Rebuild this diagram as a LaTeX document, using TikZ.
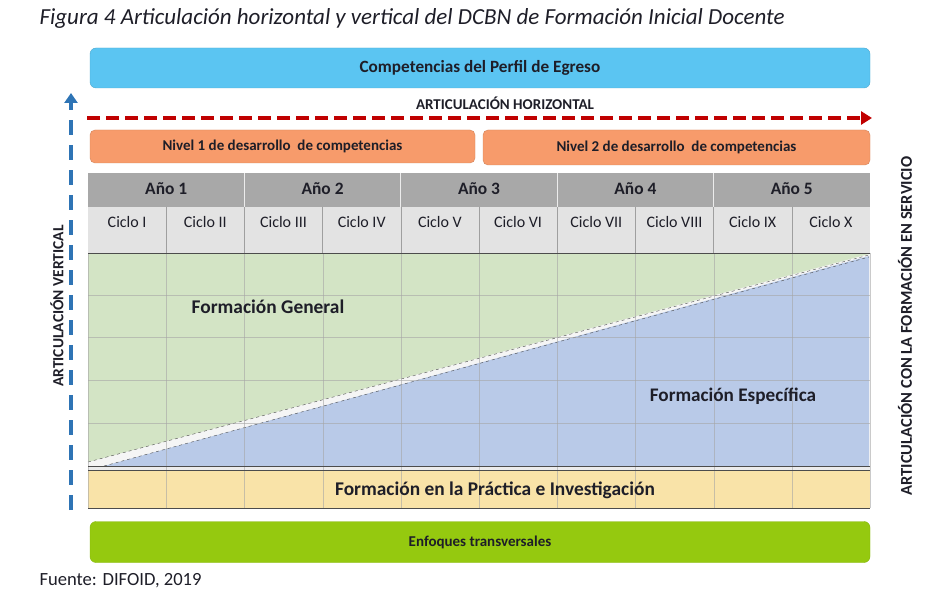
\documentclass[tikz,border=0pt]{standalone}
\usepackage{fontspec}
\setmainfont{Carlito}
\usetikzlibrary{arrows.meta}
\definecolor{perfil}{HTML}{5BC5F2}
\definecolor{nivel}{HTML}{F79B6B}
\definecolor{anyo}{HTML}{A8A8A8}
\definecolor{ciclo}{HTML}{E3E3E3}
\definecolor{general}{HTML}{D3E4C5}
\definecolor{especifica}{HTML}{B9CAE8}
\definecolor{practica}{HTML}{F9E3A8}
\definecolor{enfoque}{HTML}{95C90F}
\definecolor{rojo}{HTML}{C00000}
\definecolor{azul}{HTML}{2E74B5}
\definecolor{tinta}{HTML}{1E1E28}

\tikzset{
  banda/.style={rounded corners=6pt, minimum width=780pt, minimum height=40pt, inner sep=0pt, text=tinta},
  nivelbox/.style={rounded corners=5pt, fill=nivel, draw=nivel!85!black, minimum height=33pt, inner sep=0pt, text=tinta,
    font=\bfseries\fontsize{15}{17}\selectfont},
  rotulo/.style={font=\bfseries\fontsize{15.5}{17}\selectfont, text=tinta},
  rejilla/.style={draw=gray!70, very thin, opacity=0.6},
}

\begin{document}
\begin{tikzpicture}[x=1pt,y=-1pt]
  \useasboundingbox (0,0) rectangle (938,612);
  \node[anchor=west,font=\itshape\fontsize{23}{26}\selectfont,text=tinta] (titulo) at (36,18) {Figura 4 Articulación horizontal y vertical del DCBN de Formación Inicial Docente};

  % bandas superiores
  \node[banda,fill=perfil,draw=perfil!85!black,font=\bfseries\fontsize{17.2}{19}\selectfont] (perfil) at (480,68) {Competencias del Perfil de Egreso};
  \node[font=\bfseries\fontsize{15}{17}\selectfont,text=tinta] (horizontal) at (505,103) {ARTICULACIÓN HORIZONTAL};
  \coordinate (hIni) at (87,118);
  \coordinate (hFin) at (872,118);
  \draw[draw=rojo,line width=3.5pt,dash pattern=on 13pt off 6pt,-{Triangle[length=11pt,width=13pt]}] (hIni) -- (hFin);
  \node[nivelbox,minimum width=385pt] (nivel1) at (282.5,146.5) {Nivel 1 de desarrollo~ de competencias};
  \node[nivelbox,minimum width=387pt,minimum height=35pt] (nivel2) at (676.5,147.5) {Nivel 2 de desarrollo~ de competencias};

  % cabecera de años y ciclos
  \fill[anyo] (88,173) rectangle (870,207);
  \fill[ciclo] (88,207) rectangle (870,253);
  \foreach \i in {1,...,5}
    \node[font=\bfseries\fontsize{17.4}{19}\selectfont,text=tinta] (anyo\i) at ({88+156.4*(\i-0.5)},189) {Año \i};
  \foreach \i in {1,...,4}
    \draw[white!85!gray,line width=1pt] ({88+156.4*\i},173) -- ({88+156.4*\i},207);
  \foreach \c [count=\k] in {I,II,III,IV,V,VI,VII,VIII,IX,X}
    \node[font=\fontsize{16}{18}\selectfont,text=tinta] (ciclo\k) at ({88+78.2*(\k-0.5)},222) {Ciclo \c};
  \foreach \k in {1,...,9}
    \draw[gray!75] ({88+78.2*\k},207) -- ({88+78.2*\k},253);

  % area de formacion
  \fill[gray!8] (88,253) rectangle (870,466);
  \fill[general] (88,254) -- (869,254) -- (88,462) -- cycle;
  \fill[especifica] (104,466) -- (869,256) -- (869,466) -- cycle;
  \draw[dashed,gray!60!black,thin] (88,462) -- (869,255);
  \draw[dashed,gray!60!black,thin] (104,466) -- (869,257);
  \fill[gray!15] (88,466) rectangle (870,470);
  \fill[practica] (88,470) rectangle (870,508);
  \foreach \y in {295,337,380,423}
    \draw[rejilla] (88,\y) -- (870,\y);
  \foreach \k in {0,...,10}
    \draw[rejilla] ({88+78.2*\k},253) -- ({88+78.2*\k},508);
  \draw[gray!60!black] (88,253) -- (870,253);
  \draw[gray!60!black] (88,466) -- (870,466);
  \draw[gray!60!black] (88,470) -- (870,470);
  \draw[gray!60!black] (88,508) -- (870,508);
  \node[font=\bfseries\fontsize{19.4}{22}\selectfont,text=tinta] (general) at (268,307) {Formación General};
  \node[font=\bfseries\fontsize{19.2}{22}\selectfont,text=tinta] (especifica) at (733,396) {Formación Específica};
  \node[font=\bfseries\fontsize{19.4}{22}\selectfont,text=tinta] (practica) at (495,490) {Formación en la Práctica e Investigación};

  % banda inferior
  \node[banda,fill=enfoque,draw=enfoque!90!black,minimum height=41pt,font=\bfseries\fontsize{15}{17}\selectfont] (enfoques) at (480,542) {Enfoques transversales};
  \node[anchor=west,font=\fontsize{18.6}{21}\selectfont,text=tinta] (fuente) at (36,581) {Fuente: DIFOID, 2019};

  % articulaciones
  \coordinate (vIni) at (71,510);
  \coordinate (vFin) at (71,93);
  \draw[draw=azul,line width=4.5pt,dash pattern=on 15pt off 10pt,-{Triangle[length=10pt,width=13pt]}] (vIni) -- (vFin);
  \node[rotulo,rotate=90] (vertical) at (57,306) {ARTICULACIÓN VERTICAL};
  \node[rotulo,rotate=90,font=\bfseries\fontsize{16.5}{18}\selectfont] (servicio) at (905,326) {ARTICULACIÓN CON LA FORMACIÓN EN SERVICIO};
\end{tikzpicture}
\end{document}
